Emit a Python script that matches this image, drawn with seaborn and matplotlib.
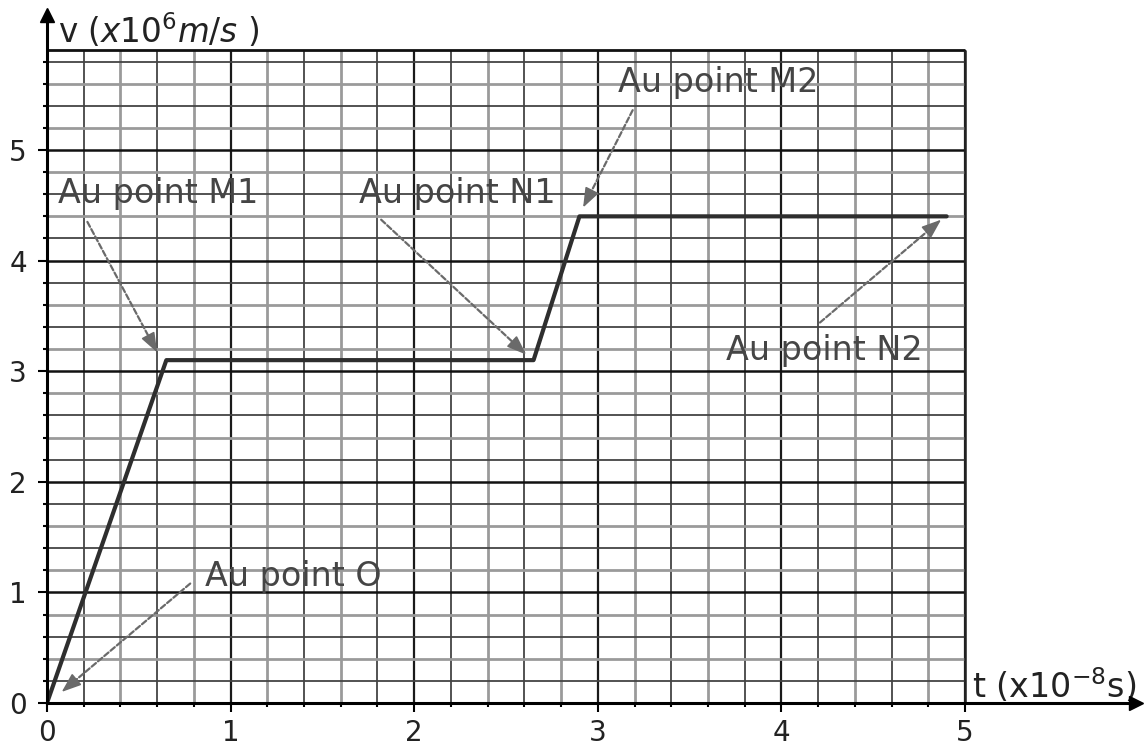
import numpy as np
import pandas as pd
import matplotlib
matplotlib.use("Agg")
import matplotlib.pyplot as plt
import seaborn as sns

# ---- data ----
t_values = [0.0, 0.65, 2.65, 2.9, 4.9]
v_values = [0.0, 3.1, 3.1, 4.4, 4.4]

labels = ["Au point O", "Au point M1", "Au point N1", "Au point M2", "Au point N2"]
label_pos_x = [0.86, 0.06, 1.70, 3.11, 3.70]
label_pos_y = [1.14, 4.61, 4.61, 5.61, 3.19]
arrow_start_x = [0.78, 0.22, 1.82, 3.19, 4.21]
arrow_start_y = [1.08, 4.35, 4.37, 5.36, 3.44]
arrow_end_x = [0.08, 0.60, 2.61, 2.92, 4.87]
arrow_end_y = [0.10, 3.17, 3.15, 4.48, 4.37]

x_major = [0, 1, 2, 3, 4, 5]
y_major = [0, 1, 2, 3, 4, 5]
x_tick_labels = ["0", "1", "2", "3", "4", "5"]
y_tick_labels = ["0", "1", "2", "3", "4", "5"]

sns.set_theme(style="white")
plt.rcParams['font.family'] = ['DejaVu Sans']
plt.rcParams['mathtext.fontset'] = 'dejavusans'

W, H = 1148, 748
fig = plt.figure(figsize=(W / 100, H / 100), dpi=100)
ax = fig.add_axes([47 / W, (H - 703) / H, (1136 - 47) / W, (703 - 15) / H])
ax.set_xlim(0, (1136 - 47) / 183.6)
ax.set_ylim(0, (703 - 15) / 110.6)

grid_xmax = 5.0
grid_ymax = 5.9

# grid
xg = np.round(np.arange(0.2, 5.0001, 0.2), 2)
yg = np.round(np.arange(0.2, 5.9001, 0.2), 2)
for i, x in enumerate(xg):
    if abs(x - round(x)) < 1e-6:
        ax.vlines(x, 0, grid_ymax, color='#1a1a1a', lw=1.6, zorder=1)
    elif i % 2 == 0:
        ax.vlines(x, 0, grid_ymax, color='#444444', lw=1.3, zorder=1)
    else:
        ax.vlines(x, 0, grid_ymax, color='#9a9a9a', lw=2.0, zorder=1)
for i, y in enumerate(yg):
    if abs(y - round(y)) < 1e-6:
        ax.hlines(y, 0, grid_xmax, color='#111111', lw=1.8, zorder=1)
    elif i % 2 == 0:
        ax.hlines(y, 0, grid_xmax, color='#444444', lw=1.3, zorder=1)
    else:
        ax.hlines(y, 0, grid_xmax, color='#9a9a9a', lw=2.0, zorder=1)
ax.hlines(grid_ymax, 0, grid_xmax, color='#111111', lw=2.0, zorder=1)
ax.vlines(grid_xmax, 0, grid_ymax, color='#222222', lw=1.8, zorder=1)

# curve
df = pd.DataFrame({"t": t_values, "v": v_values})
sns.lineplot(data=df, x="t", y="v", ax=ax, color='#2e2e2e', lw=3, sort=False,
             estimator=None, zorder=3)

# spines / axes arrows
for s in ['top', 'right']:
    ax.spines[s].set_visible(False)
for s in ['left', 'bottom']:
    ax.spines[s].set_color('black')
    ax.spines[s].set_linewidth(2.2)
    ax.spines[s].set_zorder(4)
ax.plot(1, 0, marker='>', color='black', ms=10, transform=ax.get_yaxis_transform(), clip_on=False, zorder=5)
ax.plot(0, 1, marker='^', color='black', ms=10, transform=ax.get_xaxis_transform(), clip_on=False, zorder=5)

ax.set_xticks(x_major)
ax.set_xticklabels(x_tick_labels)
ax.set_yticks(y_major)
ax.set_yticklabels(y_tick_labels)
ax.set_xticks(xg, minor=True)
ax.set_yticks(yg, minor=True)
ax.tick_params(axis='both', which='major', direction='out', length=6.5, width=1.5,
               color='black', labelsize=20, labelcolor='#222222', pad=5,
               bottom=True, left=True)
ax.tick_params(axis='both', which='minor', direction='out', length=3, width=1.5,
               color='black', bottom=True, left=True)
ax.tick_params(axis='y', which='major', pad=8)
ax.set_xlabel("")
ax.set_ylabel("")

# axis titles
ax.text(0.06, 6.08, r"v ($x10^6m/s$ )", fontsize=23.5, color='#222222', va='center', ha='left')
ax.text(5.04, 0.16, r"t (x10$^{-8}$s)", fontsize=24, color='#222222', va='center', ha='left')

# annotations
acol = '#6a6a6a'
for lab, lx, ly, sx, sy, ex, ey in zip(labels, label_pos_x, label_pos_y,
                                       arrow_start_x, arrow_start_y,
                                       arrow_end_x, arrow_end_y):
    ax.text(lx, ly, lab, fontsize=24, color='#454545', va='center', ha='left', zorder=6)
    ax.annotate('', xy=(ex, ey), xytext=(sx, sy),
                arrowprops=dict(arrowstyle='-', color=acol, lw=1.6,
                                linestyle=(0, (2.5, 1.2)), shrinkA=0, shrinkB=6),
                zorder=6)
    bx = ex - (ex - sx) * 0.08
    by = ey - (ey - sy) * 0.08
    ax.annotate('', xy=(ex, ey), xytext=(bx, by),
                arrowprops=dict(arrowstyle='-|>,head_length=0.8,head_width=0.3',
                                color=acol, lw=1.2, shrinkA=0, shrinkB=0,
                                mutation_scale=15),
                zorder=6)

fig.savefig("out.png", dpi=100)
